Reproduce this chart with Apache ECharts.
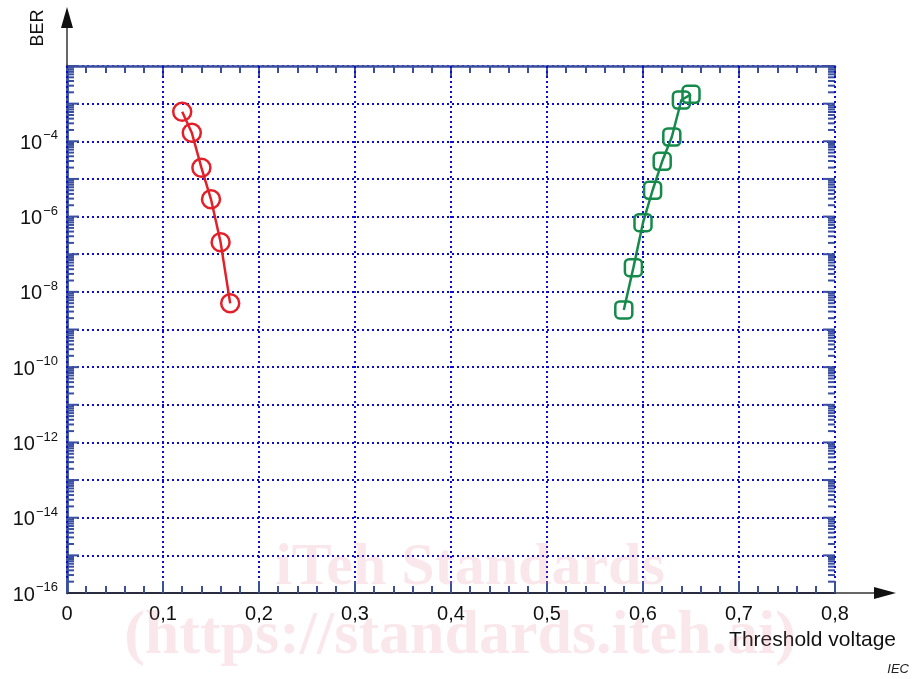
<!DOCTYPE html>
<html>
<head>
<meta charset="utf-8">
<script src="https://cdn.jsdelivr.net/npm/echarts@6/dist/echarts.min.js"></script>
<style>
html,body{margin:0;padding:0;background:#fff;}
#chart{width:912px;height:679px;}
</style>
</head>
<body>
<div id="chart"></div>
<script>
// ---- data ----
const redX = [0.12, 0.13, 0.14, 0.15, 0.16, 0.17];
const redY = [6.1e-4, 1.69e-4, 1.99e-5, 2.88e-6, 2.07e-7, 4.95e-9];
const greenX = [0.58, 0.59, 0.60, 0.61, 0.62, 0.63, 0.64, 0.65];
const greenY = [3.3e-9, 4.4e-8, 6.9e-7, 5.0e-6, 2.94e-5, 1.30e-4, 1.25e-3, 1.77e-3];
const yLabelExponents = [-4, -6, -8, -10, -12, -14, -16];
const minorMultipliers = [2, 3, 4, 5, 6, 7, 8, 9];
const decadeExponents = [-16, -15, -14, -13, -12, -11, -10, -9, -8, -7, -6, -5, -4, -3, -2];

const FRAME = '#3b4f9f';
const GRID = '#0a0ad0';
const FONT = '"Liberation Sans", Arial, sans-serif';

// y-axis frame ticks: [isMajor, value]
const yTickData = [];
decadeExponents.forEach(e => {
  yTickData.push([1, Math.pow(10, e)]);
  if (e < -2) minorMultipliers.forEach(m => yTickData.push([0, m * Math.pow(10, e)]));
});

const chart = echarts.init(document.getElementById('chart'), null, {renderer: 'canvas'});

const gridLine = {show: true, lineStyle: {color: GRID, width: 2, type: [2, 3]}};

const option = {
  animation: false,
  backgroundColor: '#fff',
  grid: {left: 67, right: 77, top: 66, bottom: 86, containLabel: false},
  xAxis: [
    {
      type: 'value', position: 'bottom', min: 0, max: 0.8, interval: 0.1,
      axisLine: {show: true, lineStyle: {color: '#2b2b3f', width: 2}},
      axisTick: {show: true, inside: true, length: 12, lineStyle: {color: FRAME, width: 2}},
      minorTick: {show: true, splitNumber: 5, length: 7, lineStyle: {color: FRAME, width: 2}},
      axisLabel: {
        show: true, margin: 11, color: '#111', fontFamily: FONT, fontSize: 20,
        formatter: v => (v === 0 ? '0' : v.toFixed(1).replace('.', ','))
      },
      splitLine: gridLine,
      z: 3
    },
    {
      type: 'value', position: 'top', min: 0, max: 0.8, interval: 0.1,
      axisLine: {show: true, lineStyle: {color: FRAME, width: 2.5}},
      axisTick: {show: true, inside: true, length: 12, lineStyle: {color: FRAME, width: 2}},
      minorTick: {show: true, splitNumber: 5, length: 7, lineStyle: {color: FRAME, width: 2}},
      axisLabel: {show: false},
      splitLine: {show: false}
    }
  ],
  yAxis: [
    {
      type: 'log', logBase: 10, position: 'left', min: 1e-16, max: 1e-2, interval: 1,
      axisLine: {show: true, lineStyle: {color: FRAME, width: 2.5}},
      axisTick: {show: false},
      axisLabel: {
        show: true, margin: 9, fontFamily: FONT, color: '#111',
        formatter: function (v) {
          const e = Math.round(Math.log10(v));
          if (yLabelExponents.indexOf(e) < 0) return '';
          return '{b|10}{s|\u2212' + Math.abs(e) + '}';
        },
        rich: {
          b: {fontSize: 20, fontFamily: FONT, color: '#111', lineHeight: 24, verticalAlign: 'bottom'},
          s: {fontSize: 13, fontFamily: FONT, color: '#111', lineHeight: 24, verticalAlign: 'top', padding: [0, 0, 0, 1]}
        }
      },
      splitLine: gridLine
    },
    {
      type: 'log', logBase: 10, position: 'right', min: 1e-16, max: 1e-2, interval: 1,
      axisLine: {show: true, lineStyle: {color: FRAME, width: 2.5}},
      axisTick: {show: false},
      axisLabel: {show: false},
      splitLine: {show: false}
    }
  ],
  series: [
    {
      type: 'custom', name: 'yFrameTicks', silent: true, xAxisIndex: 0, yAxisIndex: 0,
      data: yTickData, clip: false, z: 1,
      renderItem: function (params, api) {
        const p = api.coord([0, api.value(1)]);
        const len = api.value(0) ? 12 : 7;
        const cs = params.coordSys;
        const st = {stroke: FRAME, lineWidth: 2};
        return {
          type: 'group',
          children: [
            {type: 'line', shape: {x1: cs.x, y1: p[1], x2: cs.x + len, y2: p[1]}, style: st},
            {type: 'line', shape: {x1: cs.x + cs.width - len, y1: p[1], x2: cs.x + cs.width, y2: p[1]}, style: st}
          ]
        };
      }
    },
    {
      type: 'line', name: 'red', xAxisIndex: 0, yAxisIndex: 0,
      data: redX.map((x, i) => [x, redY[i]]),
      symbol: 'circle', symbolSize: 18,
      lineStyle: {color: '#e3202a', width: 2.5},
      itemStyle: {color: 'transparent', borderColor: '#e3202a', borderWidth: 2.5},
      z: 5
    },
    {
      type: 'line', name: 'green', xAxisIndex: 0, yAxisIndex: 0,
      data: greenX.map((x, i) => [x, greenY[i]]),
      symbol: 'roundRect', symbolSize: 17,
      lineStyle: {color: '#168a4b', width: 2.5},
      itemStyle: {color: 'transparent', borderColor: '#168a4b', borderWidth: 2.5},
      z: 5
    }
  ]
};

chart.setOption(option);

const tl = chart.convertToPixel({xAxisIndex: 0, yAxisIndex: 0}, [0, 1e-2]);
const br = chart.convertToPixel({xAxisIndex: 0, yAxisIndex: 0}, [0.8, 1e-16]);
const AX = '#333';

chart.setOption({
  graphic: [
    {type: 'line', shape: {x1: tl[0], y1: tl[1], x2: tl[0], y2: 26}, style: {stroke: AX, lineWidth: 1.5}, z: 10},
    {type: 'polygon', shape: {points: [[tl[0], 7], [tl[0] - 6, 28], [tl[0] + 6, 28]]}, style: {fill: '#111'}, z: 10},
    {type: 'line', shape: {x1: br[0], y1: br[1], x2: 876, y2: br[1]}, style: {stroke: AX, lineWidth: 1.5}, z: 10},
    {type: 'polygon', shape: {points: [[896, br[1]], [874, br[1] - 6], [874, br[1] + 6]]}, style: {fill: '#111'}, z: 10},
    {type: 'text', x: 38, y: 28, rotation: Math.PI / 2,
      style: {text: 'BER', font: '18px ' + FONT, fill: '#111', align: 'center', verticalAlign: 'middle'}, z: 10},
    {type: 'text', x: 896, y: 640,
      style: {text: 'Threshold voltage', font: '21px ' + FONT, fill: '#111', align: 'right', verticalAlign: 'middle'}, z: 10},
    {type: 'text', x: 909, y: 669,
      style: {text: 'IEC', font: 'italic 13px ' + FONT, fill: '#222', align: 'right', verticalAlign: 'middle'}, z: 10},
    {type: 'text', x: 470, y: 568,
      style: {text: 'iTeh Standards', font: 'bold 60px "Liberation Serif", "Times New Roman", serif', fill: 'rgba(228,110,140,0.17)', align: 'center', verticalAlign: 'middle'}, z: 20},
    {type: 'text', x: 460, y: 637,
      style: {text: '(https://standards.iteh.ai)', font: 'bold 62px "Liberation Serif", "Times New Roman", serif', fill: 'rgba(228,110,140,0.17)', align: 'center', verticalAlign: 'middle'}, z: 20}
  ]
});
</script>
</body>
</html>
